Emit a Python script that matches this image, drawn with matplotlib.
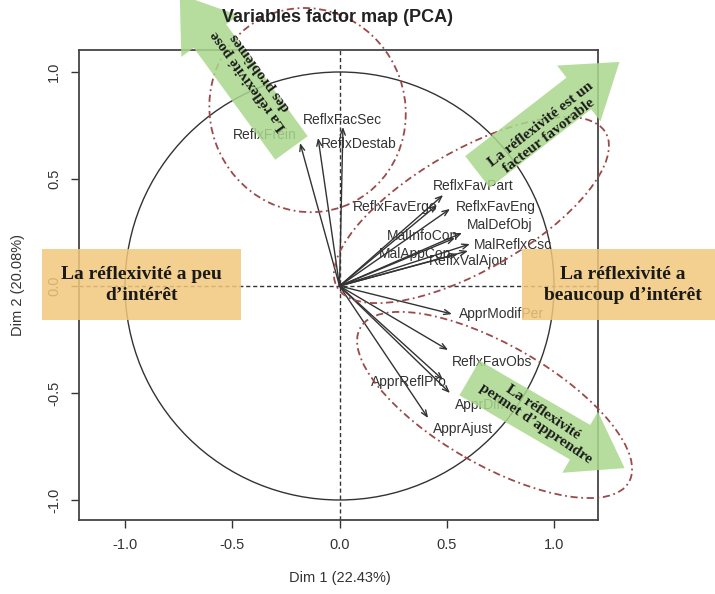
import matplotlib
matplotlib.use('Agg')
import matplotlib.pyplot as plt
from matplotlib.patches import Ellipse, FancyArrow, Rectangle, Circle

# variables (coordinates on Dim 1 / Dim 2)
var_names = ['ReflxFrein', 'ReflxFacSec', 'ReflxDestab', 'ReflxFavPart', 'ReflxFavErgo',
             'ReflxFavEng', 'MalDefObj', 'MalInfoCon', 'MalReflxCsc', 'MalAppCon',
             'ReflxValAjou', 'ApprModifPer', 'ReflxFavObs', 'ApprReflPro', 'ApprDiff',
             'ApprAjust']
dim1 = [-0.184, 0.016, -0.100, 0.483, 0.455, 0.515, 0.571, 0.538, 0.608, 0.552,
        0.599, 0.524, 0.506, 0.483, 0.515, 0.413]
dim2 = [0.668, 0.743, 0.692, 0.425, 0.379, 0.360, 0.248, 0.224, 0.196, 0.150,
        0.164, -0.131, -0.299, -0.439, -0.500, -0.617]
ticks = [-1.0, -0.5, 0.0, 0.5, 1.0]
tick_labels = ['-1.0', '-0.5', '0.0', '0.5', '1.0']

# label offsets in pixels (placement only)
lab_off = {'ReflxFrein': (-35, 8), 'ReflxFacSec': (-1, 7), 'ReflxDestab': (41, -6),
           'ReflxFavPart': (30, 9), 'ReflxFavErgo': (-42, -2), 'ReflxFavEng': (46, 2),
           'MalDefObj': (38, 8), 'MalInfoCon': (-32, 2), 'MalReflxCsc': (43, -1),
           'MalAppCon': (-43, 0), 'ReflxValAjou': (0, -10), 'ApprModifPer': (50, 0),
           'ReflxFavObs': (44, -12), 'ApprReflPro': (-34, -2), 'ApprDiff': (30, -12),
           'ApprAjust': (35, -11)}

grey = '#333333'
green = '#A9D88C'
orange = '#F1C87C'
red = '#9B4A4A'

fig = plt.figure(figsize=(7.15, 5.94), dpi=100)
ax = fig.add_axes([79/715, 74/594, 519/715, 470/594])
ax.set_xlim(-1.2145, 1.205)
ax.set_ylim(-1.0935, 1.1028)

ax.add_patch(Circle((0, 0), 1, fill=False, color=grey, lw=1))
ax.axhline(0, color=grey, ls=(0, (3, 2)), lw=1)
ax.axvline(0, color=grey, ls=(0, (3, 2)), lw=1)

for n, x, y in zip(var_names, dim1, dim2):
    ax.annotate('', xy=(x, y), xytext=(0, 0),
                arrowprops=dict(arrowstyle='->,head_length=0.45,head_width=0.18',
                                color=grey, lw=1, shrinkA=0, shrinkB=0))
    ax.annotate(n, xy=(x, y), xytext=lab_off[n], textcoords='offset pixels',
                ha='center', va='center', fontsize=10, color=grey,
                family='Liberation Sans')

# dashed ellipses
for c, w, h, a in [((-0.149, 0.822), 0.91, 0.96, 20),
                   ((0.615, 0.355), 1.445, 0.56, 30),
                   ((0.723, -0.556), 1.445, 0.56, -30)]:
    ax.add_patch(Ellipse(c, w, h, angle=a, fill=False, ec=red, lw=1.3,
                         ls=(0, (4, 2, 1, 2)), clip_on=False, zorder=3))

# orange boxes
for x0, x1 in [(-1.389, -0.457), (0.849, 1.75)]:
    ax.add_patch(Rectangle((x0, -0.159), x1 - x0, 0.332, fc=orange, ec='none',
                           alpha=0.85, clip_on=False, zorder=4))
ax.text(-0.923, 0.005, 'La réflexivité a peu\nd\u2019intérêt', ha='center', va='center',
        fontsize=14, fontweight='bold', family='Liberation Serif', color='#1a1a1a',
        linespacing=1.25, zorder=6, clip_on=False)
ax.text(1.319, 0.005, 'La réflexivité a\nbeaucoup d\u2019intérêt', ha='center', va='center',
        fontsize=14, fontweight='bold', family='Liberation Serif', color='#1a1a1a',
        linespacing=1.25, zorder=6, clip_on=False)

# green arrows
for (tx, ty), dx, dy in [((-0.224, 0.645), -0.521, 0.717),
                         ((0.643, 0.533), 0.662, 0.514),
                         ((0.606, -0.430), 0.723, -0.421)]:
    ax.add_patch(FancyArrow(tx, ty, dx, dy, width=0.187, head_width=0.33,
                            head_length=0.24, length_includes_head=True,
                            fc=green, ec='none', alpha=0.85, clip_on=False, zorder=4))

for (x, y), s, r in [((-0.396, 0.981), 'La réflexivité pose\ndes problèmes', 126),
                     ((0.956, 0.729), 'La réflexivité est un\nfacteur favorable', 38),
                     ((0.932, -0.617), 'La réflexivité\npermet d\u2019apprendre', -34)]:
    ax.text(x, y, s, rotation=r, rotation_mode='anchor', ha='center', va='center',
            fontsize=11, fontweight='bold', family='Liberation Serif',
            color='#1a1a1a', linespacing=1.1, zorder=6, clip_on=False)

ax.set_xticks(ticks)
ax.set_xticklabels(tick_labels)
ax.set_yticks(ticks)
ax.set_yticklabels(tick_labels, rotation=90, va='center')
ax.tick_params(direction='out', length=6, width=1, colors=grey, labelsize=10.5, pad=7)
for lab in ax.get_xticklabels() + ax.get_yticklabels():
    lab.set_family('Liberation Sans')
for sp in ax.spines.values():
    sp.set_color('#444444')
    sp.set_linewidth(1.3)

fig.text(338/715, 1 - 18/594, 'Variables factor map (PCA)', ha='center', va='center',
         fontsize=13, fontweight='bold', family='Liberation Sans', color='#222222')
fig.text(340/715, 1 - 578/594, 'Dim 1 (22.43%)', ha='center', va='center',
         fontsize=10.5, family='Liberation Sans', color=grey)
fig.text(18/715, 1 - 285/594, 'Dim 2 (20.08%)', ha='center', va='center', rotation=90,
         fontsize=10.5, family='Liberation Sans', color=grey)

fig.savefig('out.png', dpi=100)
